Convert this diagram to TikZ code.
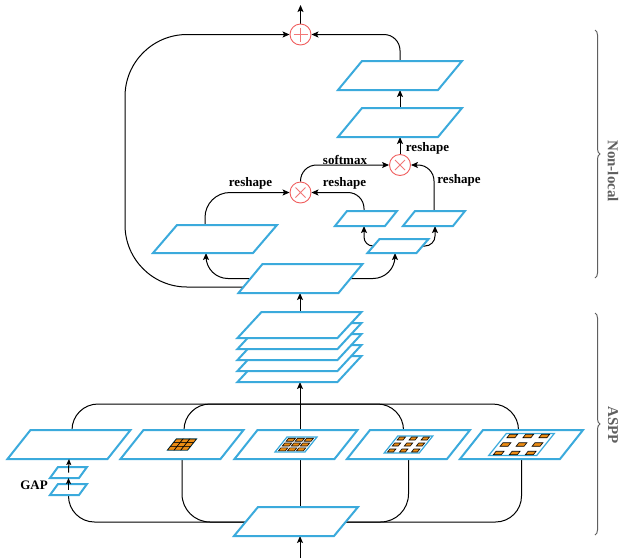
\documentclass[tikz,border=0pt]{standalone}
\usepackage{fontspec}
\setmainfont{Liberation Serif}
\usetikzlibrary{arrows.meta,calc,decorations.pathreplacing}
\pgfdeclarelayer{bg}
\pgfsetlayers{bg,main}
\definecolor{pblue}{RGB}{59,170,220}
\definecolor{opred}{RGB}{240,95,95}
\definecolor{cellor}{RGB}{236,140,20}
\definecolor{brgray}{RGB}{95,95,95}
\tikzset{
 pgn/.style={inner sep=0pt, outer sep=0pt, rectangle},
 pgline/.style={draw=pblue, line width=2pt, fill=white, line join=miter},
 conn/.style={line width=1pt, draw=black},
 arr/.style={conn, -{Stealth[length=7pt,width=6pt,inset=1.5pt]}},
 sarr/.style={conn, -{Stealth[length=6pt,width=5pt,inset=1.2pt]}},
 opn/.style={circle, draw=opred, line width=0.9pt, fill=white, minimum size=21pt, inner sep=0pt},
 opsym/.style={draw=opred!85, line width=0.9pt},
 lbl/.style={font=\bfseries\fontsize{13}{15}\selectfont, inner sep=0pt},
 sidelbl/.style={font=\bfseries\fontsize{15}{17}\selectfont, text=brgray, rotate=-90, inner sep=0pt},
 brc/.style={decorate, decoration={brace, amplitude=5pt}, draw=brgray, line width=1pt},
 gline/.style={draw=pblue, line width=1.2pt, fill=white},
 cellbox/.style={fill=cellor, draw=black, line width=0.6pt},
}
% name, x, y, top width, height, skew
\newcommand\pgbox[6]{%
 \node[pgn, minimum width=#4pt, minimum height=#5pt] (#1) at (#2,#3) {};
 \draw[pgline] ($(#1)+({-(#4)/2-(#6)/2},{(#5)/2})$) -- ++(#4,0) -- ++(#6,-#5) -- ++(-#4,0) -- cycle;
}
% cx cy w h dx dy cw ch
\newcommand\dgrid[8]{%
 \begin{scope}[shift={(#1,#2)}, xslant=0.8]
  \draw[gline] ({-(#3)/2},{-(#4)/2}) rectangle ({(#3)/2},{(#4)/2});
  \foreach \i in {-1,0,1}{\foreach \j in {-1,0,1}{
   \draw[cellbox] ({\i*(#5)-(#7)/2},{\j*(#6)-(#8)/2}) rectangle ++(#7,#8);
  }}
 \end{scope}}
\begin{document}
\begin{tikzpicture}[x=1pt,y=-1pt]
\useasboundingbox (0,0) rectangle (621,558);
% coordinates
\coordinate (inp) at (300,558);
\coordinate (outp) at (300.5,5);
\coordinate (busT) at (300,404);
\coordinate (busB) at (300,522);
\coordinate (skipL) at (125,0);
% ASPP
\pgbox{asppin}{296}{521.5}{100}{29}{24}
\pgbox{b1}{69}{444.5}{100}{29}{23}
\pgbox{b2}{182}{444.5}{100}{29}{23}
\pgbox{b3}{296}{444.5}{100}{29}{23}
\pgbox{b4}{408.5}{444.5}{100}{29}{23}
\pgbox{b5}{521.5}{444.5}{100}{29}{23}
\dgrid{182}{444.5}{20}{11}{6.7}{3.7}{6.7}{3.7}
\dgrid{296}{444.5}{30}{15}{9}{4.8}{7}{3}
\dgrid{408.5}{444.5}{35}{17}{12}{6}{6}{3}
\dgrid{521.5}{444.5}{48}{22}{16}{8.5}{8}{3.5}
\pgbox{gap1}{68.5}{472.5}{29}{11}{8}
\pgbox{gap2}{68.5}{489.5}{29}{11}{8}
\node[lbl] (gapl) at (34,485) {GAP};
% concat stack
\pgbox{st5}{299.5}{369}{100}{26}{24}
\pgbox{st4}{299.5}{358}{100}{26}{24}
\pgbox{st3}{299.5}{347}{100}{26}{24}
\pgbox{st2}{299.5}{336}{100}{26}{24}
\pgbox{st1}{299.5}{325}{100}{26}{24}
% Non-local
\pgbox{nin}{300.5}{278.5}{100}{29}{24}
\pgbox{theta}{215}{239}{100}{28}{24}
\pgbox{phiz}{398}{246}{49}{14}{12}
\pgbox{phi}{366}{218.5}{50}{15}{12}
\pgbox{gg}{434}{218.5}{50}{15}{12}
\pgbox{wa}{400}{122.5}{100}{29}{24}
\pgbox{wb}{400}{75.5}{100}{29}{24}
\node[opn] (m1) at (300.5,192.5) {};
\node[opn] (m2) at (400,165) {};
\node[opn] (pl) at (300.5,34.5) {};
\draw[opsym] ($(m1)+(-5,-5)$) -- ($(m1)+(5,5)$) ($(m1)+(-5,5)$) -- ($(m1)+(5,-5)$);
\draw[opsym] ($(m2)+(-5,-5)$) -- ($(m2)+(5,5)$) ($(m2)+(-5,5)$) -- ($(m2)+(5,-5)$);
\draw[opsym] ($(pl)+(-7,0)$) -- ($(pl)+(7,0)$) ($(pl)+(0,-7)$) -- ($(pl)+(0,7)$);
\node[lbl] (l1) at (250.5,183.5) {reshape};
\node[lbl] (l2) at (344.5,183.5) {reshape};
\node[lbl] (l3) at (345,160) {softmax};
\node[lbl] (l4) at (459,180.5) {reshape};
\node[lbl] (l5) at (427.5,148) {reshape};
\coordinate (sk0) at ($(nin.west)+(-7,8.5)$);
% connectors
\begin{pgfonlayer}{bg}
\draw[arr] (inp) -- (inp |- asppin.south);
\draw[conn] (asppin.north -| inp) -- (b3.south -| inp);
\draw[arr] (b3.north -| inp) -- (st5.south -| inp);
\draw[arr] (st1.north -| inp) -- (nin.south -| inp);
\draw[conn, rounded corners=26pt] ($(b1.north)+(3,0)$) -- ($(b1.north |- busT)+(3,0)$) -- ($(b5.north |- busT)+(-3,0)$) -- ($(b5.north)+(-3,0)$);
\draw[conn, rounded corners=26pt] ($(b2.north)+(2,0)$) -- ($(b2.north |- busT)+(2,0)$) -- (busT);
\draw[conn, rounded corners=26pt] ($(b4.north)+(-5,0)$) -- ($(b4.north |- busT)+(-5,0)$) -- (busT);
\draw[conn, rounded corners=26pt] (gap2.south) -- (gap2.south |- busB) -- (b5.south |- busB) -- (b5.south);
\draw[conn, rounded corners=28pt] (b2.south) -- (b2.south |- busB) -- (busB);
\draw[conn, rounded corners=28pt] (b4.south) -- (b4.south |- busB) -- (busB);
\draw[arr, rounded corners=22pt] (nin.west) -- ($(theta.south |- nin.west)+(-9,0)$) -- ($(theta.south)+(-9,0)$);
\draw[arr, rounded corners=22pt] (nin.east) -- ($(phiz.south |- nin.east)+(-3,0)$) -- ($(phiz.south)+(-3,0)$);
\draw[arr, rounded corners=9pt] (phiz.west) -- ($(phi.south |- phiz.west)+(-2,0)$) -- ($(phi.south)+(-2,0)$);
\draw[arr, rounded corners=10pt] (phiz.east) -- ($(gg.south |- phiz.east)+(1,0)$) -- ($(gg.south)+(1,0)$);
\draw[arr, rounded corners=25pt] ($(theta.north)+(-10,0)$) -- ($(theta.north |- m1.west)+(-10,0)$) -- (m1.west);
\draw[arr, rounded corners=16pt] ($(phi.north)+(-2,0)$) -- ($(phi.north |- m1.east)+(-2,0)$) -- (m1.east);
\draw[arr, rounded corners=16pt] (m1.north) -- (m1.north |- m2.west) -- (m2.west);
\draw[arr, rounded corners=16pt] (gg.north) -- (gg.north |- m2.east) -- (m2.east);
\draw[arr] (m2.north) -- (wa.south);
\draw[arr] (wa.north) -- (wb.south);
\draw[arr, rounded corners=16pt] (wb.north) -- (wb.north |- pl.east) -- (pl.east);
\draw[arr, rounded corners=62pt] (sk0) -- (sk0 -| skipL) -- (skipL |- pl.west) -- (pl.west);
\draw[arr] (pl.north) -- (outp);
\end{pgfonlayer}
\draw[sarr] (gap2.center) -- (gap1.south);
\draw[sarr] (gap1.center) -- (b1.south);
% braces
\draw[brc] (595,30) -- (595,278);
\node[sidelbl] (nl) at (613,171) {Non-local};
\draw[brc] (595,313) -- (595,535);
\node[sidelbl] (as) at (613,425) {ASPP};
\end{tikzpicture}
\end{document}
